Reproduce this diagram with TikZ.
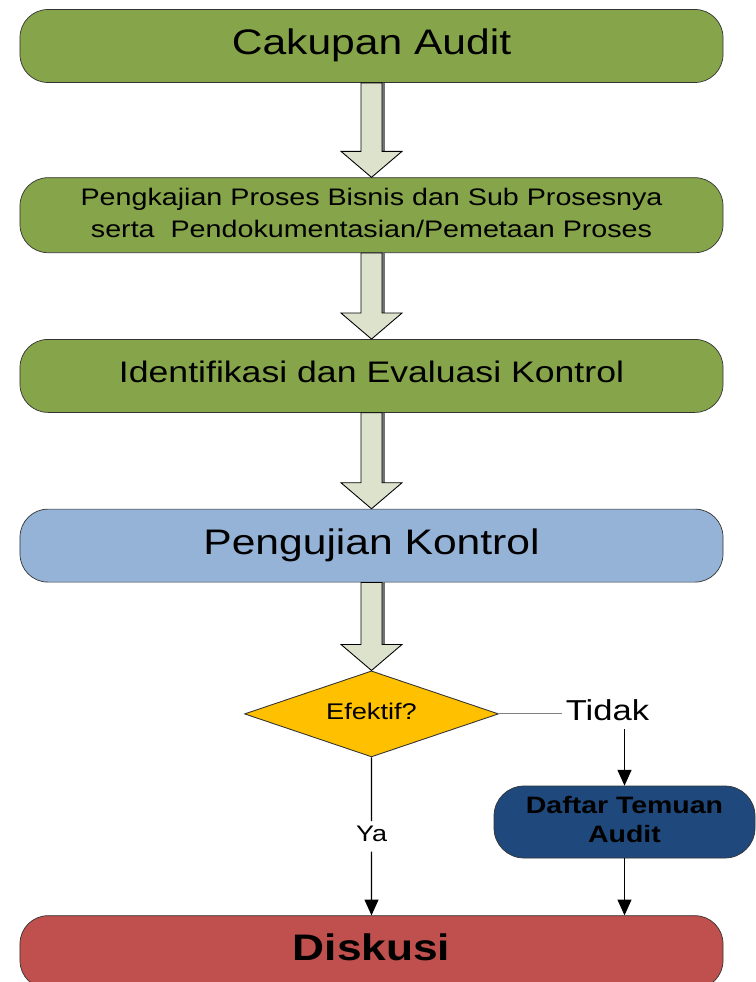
\documentclass[tikz,border=0pt]{standalone}
\usepackage{fontspec}
\setmainfont{Liberation Sans}
\usepackage{graphicx}
\usetikzlibrary{arrows.meta,positioning,shapes.geometric,calc}
\definecolor{stepgreen}{HTML}{86A44A}
\definecolor{testblue}{HTML}{95B3D7}
\definecolor{quizgold}{HTML}{FFC000}
\definecolor{findblue}{HTML}{1F497D}
\definecolor{discred}{HTML}{C0504D}
\definecolor{arrowfill}{HTML}{DDE2CD}
\newcommand{\wide}[1]{\scalebox{1.2}[1]{\begin{tabular}{@{}c@{}}#1\end{tabular}}}
\newcommand{\fatarrow}[2]{%
  \fill[black!55] ($(#1.south)+(0.17,0)$) rectangle ($(#2.north)+(0.26,0.52)$);
  \draw[fatarr] ($(#1.south)+(-0.21,0)$) -- ($(#2.north)+(-0.21,0.52)$)
    -- ($(#2.north)+(-0.61,0.52)$) -- (#2.north) -- ($(#2.north)+(0.61,0.52)$)
    -- ($(#2.north)+(0.21,0.52)$) -- ($(#1.south)+(0.21,0)$) -- cycle;}

\begin{document}
\begin{tikzpicture}[
  block/.style={draw=black!80, rectangle, rounded corners=0.56cm,
                minimum width=14.06cm, minimum height=1.46cm,
                inner sep=0pt, fill=stepgreen},
  arr/.style={-{Triangle[width=8pt,length=9pt]}, line width=0.6pt},
  fatarr/.style={draw=black, fill=arrowfill, line width=0.5pt},
  node distance=1.9cm
]
  \useasboundingbox (0,0) rectangle (15.1,-19.64);

  %% Main steps
  \node[block, font=\fontsize{20.2}{24}\selectfont] (scope) at (7.43,-0.92)
    {\wide{Cakupan Audit}};
  \node[block, minimum height=1.5cm, font=\fontsize{13.6}{18.1}\selectfont,
        below=1.89cm of scope] (process)
    {\wide{Pengkajian Proses Bisnis dan Sub Prosesnya\\
           serta\ \ Pendokumentasian/Pemetaan Proses}};
  \node[block, font=\fontsize{16.9}{20}\selectfont, below=1.72cm of process] (control)
    {\wide{Identifikasi dan Evaluasi Kontrol}};
  \node[block, fill=testblue, font=\fontsize{20.2}{24}\selectfont,
        below=1.92cm of control] (testing)
    {\wide{Pengujian Kontrol}};

  %% Decision
  \node[diamond, aspect=2.95, draw=black!80, fill=quizgold, minimum width=5.08cm,
        minimum height=1.72cm, inner sep=0pt, line width=0.5pt,
        font=\fontsize{12.9}{15}\selectfont, below=1.76cm of testing] (decision)
    {\wide{Efektif?}};
  \node[font=\fontsize{16.4}{19}\selectfont, inner sep=2pt,
        right=1.26cm of decision.east] (no) {\wide{Tidak}};
  \node[block, fill=discred, font=\bfseries\fontsize{21}{25}\selectfont,
        below=3.16cm of decision] (discuss)
    {\wide{Diskusi}};
  \node[draw=black!80, fill=findblue, rounded corners=0.6cm,
        minimum width=5.22cm, minimum height=1.44cm, inner sep=0pt,
        font=\bfseries\fontsize{13.5}{16.4}\selectfont] (findings) at (12.49,-16.44)
    {\wide{Daftar Temuan\\Audit}};
  \node[font=\fontsize{12.8}{15}\selectfont, inner sep=1pt]
    (yes) at ($(decision.south)!0.5!(discuss.north)$) {\wide{Ya}};

  %% Arrows
  \fatarrow{scope}{process}
  \fatarrow{process}{control}
  \fatarrow{control}{testing}
  \fatarrow{testing}{decision}
  \draw[gray, line width=0.6pt] (decision.east) -- (no.west);
  \draw[arr] ($(no.south -| findings.north)+(0,0.1)$) -- (findings.north);
  \draw[arr] (findings.south) -- (findings.south |- discuss.north);
  \draw[line width=0.6pt] (decision.south) -- (yes.north);
  \draw[arr] (yes.south) -- (discuss.north);
\end{tikzpicture}
\end{document}
